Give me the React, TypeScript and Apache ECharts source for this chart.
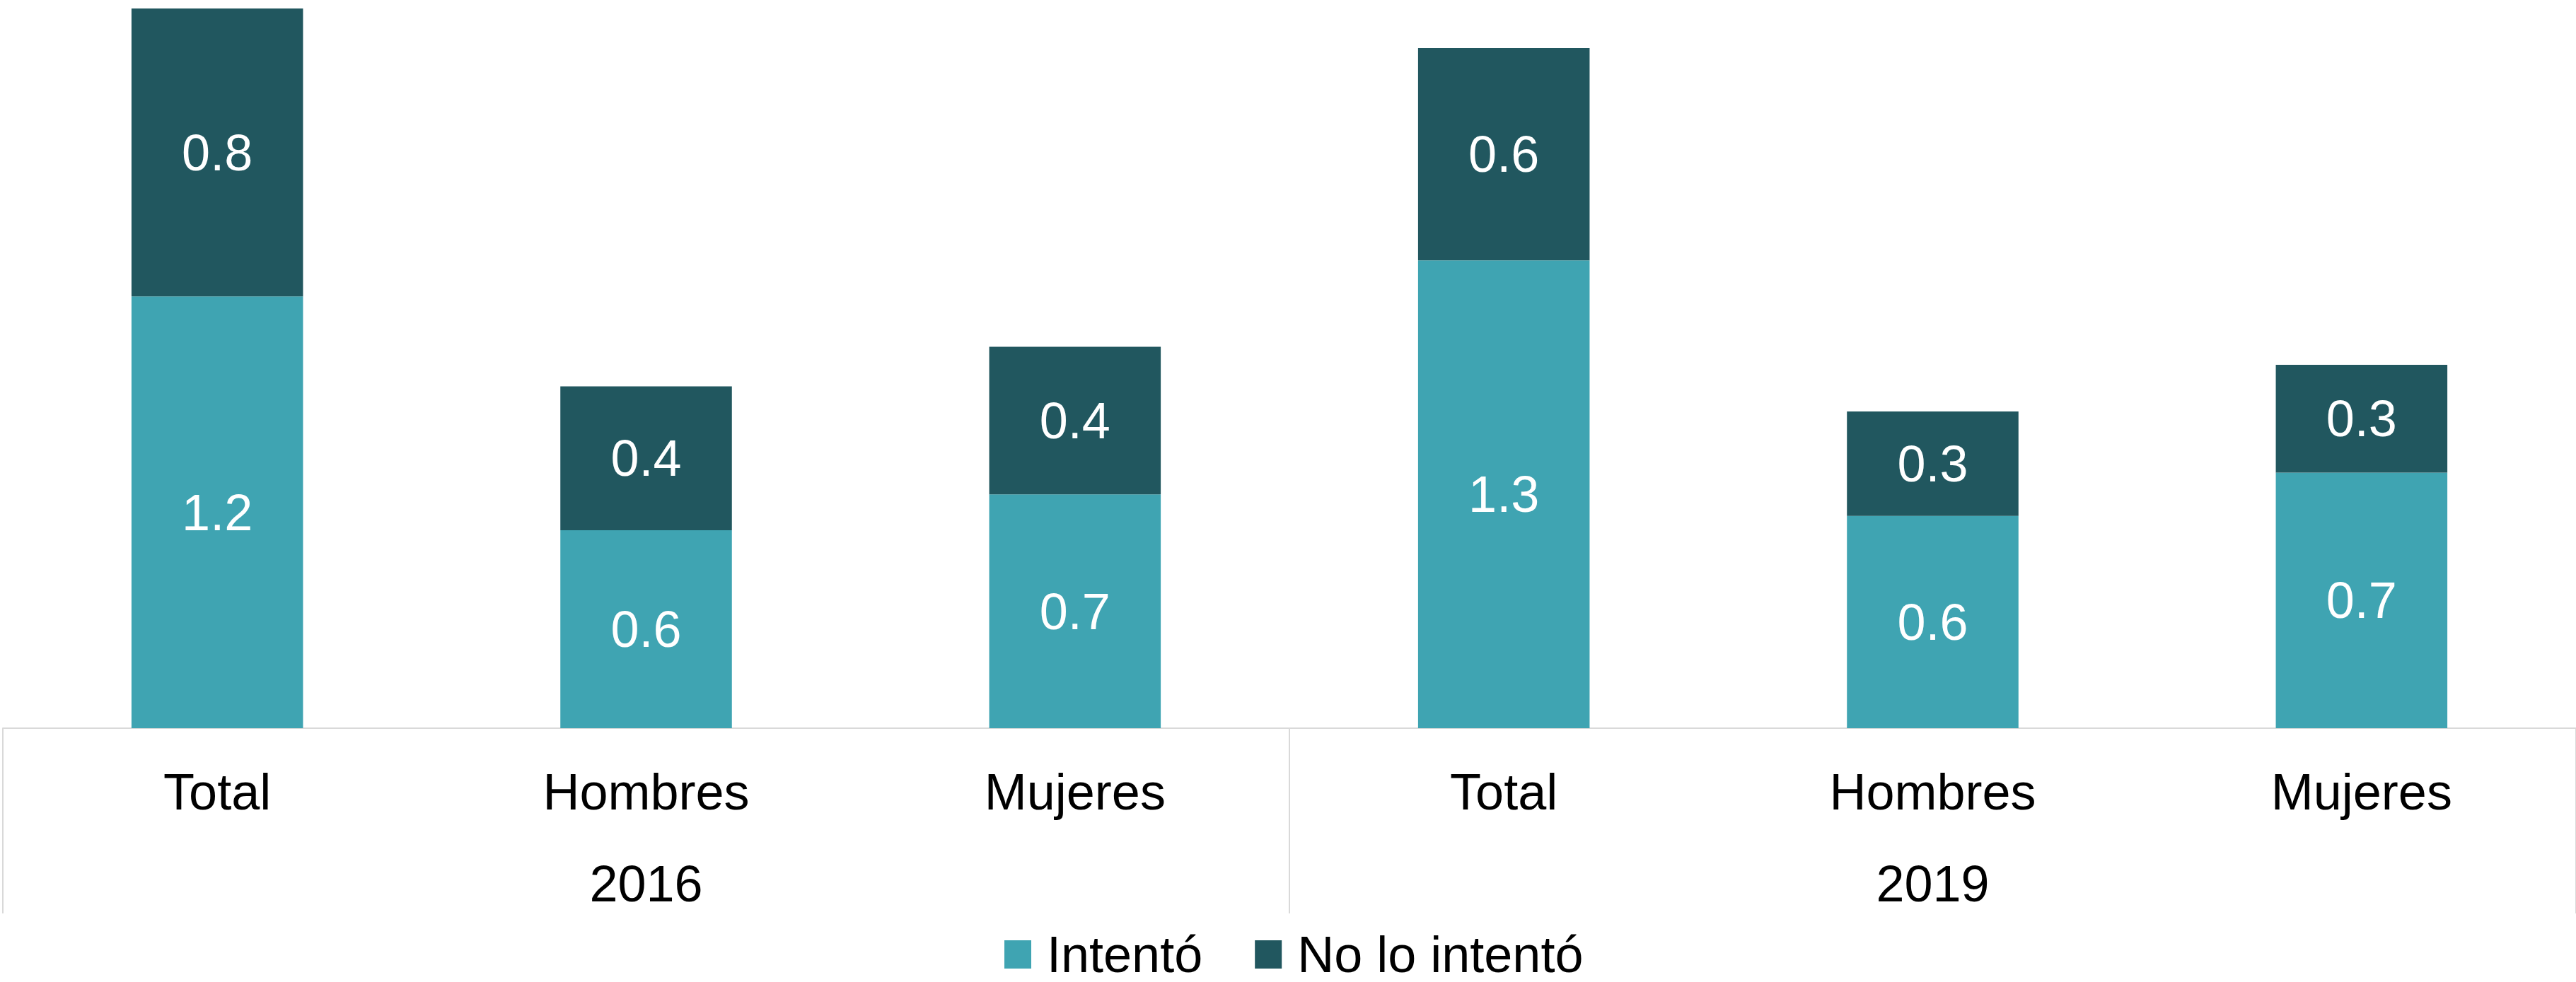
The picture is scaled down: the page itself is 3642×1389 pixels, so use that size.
import React, { useEffect, useRef } from "react";
import * as echarts from "echarts";

const categories = ["Total", "Hombres", "Mujeres", "Total", "Hombres", "Mujeres"];
const years = ["2016", "2019"];
const seriesNames = ["Intentó", "No lo intentó"];
const intento = [1.2, 0.55, 0.65, 1.3, 0.59, 0.71];
const noIntento = [0.8, 0.4, 0.41, 0.59, 0.29, 0.3];
const colors = ["#3fa4b2", "#21575f"];

const FONT = "'Liberation Sans', Arial, sans-serif";

export default function App() {
  const ref = useRef<HTMLDivElement>(null);
  useEffect(() => {
    if (!ref.current) return;
    const chart = echarts.init(ref.current, null, { renderer: "svg" });
    const fmt = (p: any) => (Math.round(p.value * 10) / 10).toFixed(1);
    chart.setOption({
      animation: false,
      textStyle: { fontFamily: FONT },
      grid: { left: 4, right: 0, top: 12, bottom: 359, containLabel: false },
      legend: {
        data: seriesNames,
        left: 1420,
        top: 1314,
        padding: 0,
        icon: "rect",
        itemWidth: 38,
        itemHeight: 40,
        itemGap: 74,
        textStyle: { fontSize: 72, fontFamily: FONT, color: "#000", padding: [0, 0, 0, 17], lineHeight: 60 },
      },
      xAxis: [
        {
          type: "category",
          data: categories,
          axisLine: { show: true, lineStyle: { color: "#d9d9d9", width: 2 } },
          axisTick: { show: false },
          axisLabel: { color: "#000", fontSize: 72, fontFamily: FONT, margin: 54, lineHeight: 72, interval: 0 },
        },
        {
          type: "category",
          data: years,
          position: "bottom",
          axisLine: { show: false },
          axisTick: { show: true, length: 262, lineStyle: { color: "#d9d9d9", width: 2 } },
          axisLabel: { color: "#000", fontSize: 72, fontFamily: FONT, margin: 184, lineHeight: 72 },
        },
      ],
      yAxis: { type: "value", min: 0, max: 2, show: false, splitLine: { show: false } },
      series: [
        {
          name: seriesNames[0],
          type: "bar",
          stack: "s",
          data: intento,
          barWidth: "40%",
          itemStyle: { color: colors[0] },
          label: { show: true, position: "inside", color: "#fff", fontSize: 72, fontFamily: FONT, formatter: fmt },
        },
        {
          name: seriesNames[1],
          type: "bar",
          stack: "s",
          data: noIntento,
          barWidth: "40%",
          itemStyle: { color: colors[1] },
          label: { show: true, position: "inside", color: "#fff", fontSize: 72, fontFamily: FONT, formatter: fmt },
        },
      ],
    });
    return () => chart.dispose();
  }, []);
  return (
    <div
      ref={ref}
      style={{ position: "absolute", left: 0, top: 0, width: 3642, height: 1389, background: "#fff" }}
    />
  );
}
